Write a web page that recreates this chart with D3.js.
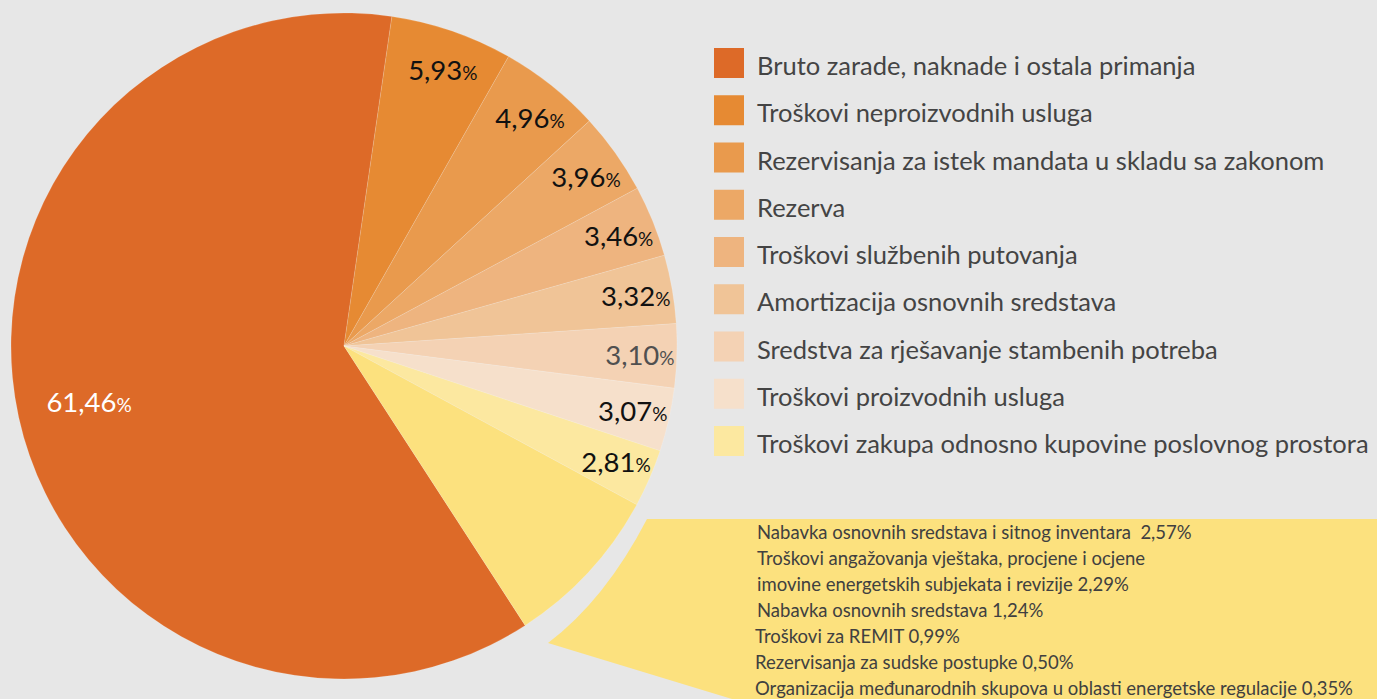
<!DOCTYPE html>
<html>
<head>
<meta charset="utf-8">
<script src="https://cdn.jsdelivr.net/npm/d3@7"></script>
<style>
  body { margin: 0; background: #e7e7e7; }
  svg { display: block; font-family: Lato, "Open Sans", sans-serif; }
</style>
</head>
<body>
<svg class="pie-chart" width="1377" height="699"></svg>
<script>
const categories = [
    "Bruto zarade, naknade i ostala primanja",
    "Troškovi neproizvodnih usluga",
    "Rezervisanja za istek mandata u skladu sa zakonom",
    "Rezerva",
    "Troškovi službenih putovanja",
    "Amortizacija osnovnih sredstava",
    "Sredstva za rješavanje stambenih potreba",
    "Troškovi proizvodnih usluga",
    "Troškovi zakupa odnosno kupovine poslovnog prostora"
];
const values = [61.46, 5.93, 4.96, 3.96, 3.46, 3.32, 3.10, 3.07, 2.81];
const colors = ["#dd6a28", "#e68a33", "#e99a4d", "#eca866", "#eeb47f", "#f0c497", "#f4d2b4", "#f6e0cb", "#fce8a0"];

// smaller items grouped into the yellow slice
const otherLines = [
    "Nabavka osnovnih sredstava i sitnog inventara  2,57%",
    "Troškovi angažovanja vještaka, procjene i ocjene",
    "imovine energetskih subjekata i revizije 2,29%",
    "Nabavka osnovnih sredstava 1,24%",
    "Troškovi za REMIT 0,99%",
    "Rezervisanja za sudske postupke 0,50%",
    "Organizacija međunarodnih skupova u oblasti energetske regulacije 0,35%"
];
const otherValues = [2.57, 2.29, 1.24, 0.99, 0.50, 0.35];
const otherColor = "#fce17e";

function drawPie() {
    const svg = d3.select("svg.pie-chart");
    const cx = 344, cy = 346, radius = 333;

    const data = values.map((v, i) => ({name: categories[i], value: v, color: colors[i]}));
    data.push({name: "other", value: d3.sum(otherValues), color: otherColor});

    const start = 147.04 * Math.PI / 180;
    const pie = d3.pie().sort(null).value(d => d.value)
        .startAngle(start).endAngle(start + 2 * Math.PI);
    const arcs = pie(data);

    const arc = d3.arc().innerRadius(0).outerRadius(radius);
    const labelArc = d3.arc().innerRadius(292).outerRadius(292);
    const bigLabelArc = d3.arc().innerRadius(261).outerRadius(261);

    const g = svg.append("g").attr("transform", `translate(${cx}, ${cy})`);

    // callout box for the grouped slice
    const p = d3.path();
    p.moveTo(647, 519);
    p.lineTo(1377, 519);
    p.lineTo(1377, 699);
    p.lineTo(732, 699);
    p.lineTo(548, 643);
    p.quadraticCurveTo(605, 600, 647, 519);
    p.closePath();
    svg.insert("path", "g").attr("d", p.toString()).attr("fill", otherColor);

    g.selectAll(".slice")
        .data(arcs)
        .enter().append("path")
            .attr("class", "slice")
            .attr("d", arc)
            .attr("fill", d => d.data.color)
            .attr("stroke", "rgba(255,255,255,0.25)")
            .attr("stroke-width", 0.6);

    const fmt = v => v.toFixed(2).replace(".", ",");

    const labels = g.selectAll(".lbl")
        .data(arcs.filter(d => d.data.name !== "other"))
        .enter().append("text")
            .attr("class", "lbl")
            .attr("text-anchor", "middle")
            .attr("transform", (d, i) => {
                const c = i === 0 ? bigLabelArc.centroid(d) : labelArc.centroid(d);
                return `translate(${c[0] + (i === 0 ? 0 : 4)}, ${c[1] + 10})`;
            })
            .attr("fill", (d, i) => i === 0 ? "#ffffff" : (d.data.value === 3.10 ? "#505050" : "#111111"))
            .style("font-size", "27.5px");
    labels.append("tspan").text(d => fmt(d.data.value));
    labels.append("tspan").style("font-size", "19px").text("%");

    // legend
    const ly = d3.scalePoint().domain(d3.range(categories.length)).range([48, 426]);
    const legend = svg.append("g").attr("class", "legend");
    const row = legend.selectAll(".row")
        .data(categories)
        .enter().append("g")
            .attr("class", "row")
            .attr("transform", (d, i) => `translate(714, ${ly(i)})`);
    row.append("rect")
        .attr("width", 30).attr("height", 30)
        .attr("fill", (d, i) => colors[i]);
    row.append("text")
        .attr("x", 43).attr("y", 27)
        .attr("fill", "#444444")
        .style("font-size", "25.5px")
        .text(d => d);

    // callout lines
    const ty = d3.scalePoint().domain(d3.range(otherLines.length)).range([539, 695]);
    svg.append("g").selectAll("text")
        .data(otherLines)
        .enter().append("text")
            .attr("x", (d, i) => i < 4 ? 757 : 755)
            .attr("y", (d, i) => ty(i))
            .attr("xml:space", "preserve")
            .style("white-space", "pre")
            .attr("fill", "#404040")
            .style("font-size", "18.5px")
            .text(d => d);
}
drawPie();
</script>
</body>
</html>
